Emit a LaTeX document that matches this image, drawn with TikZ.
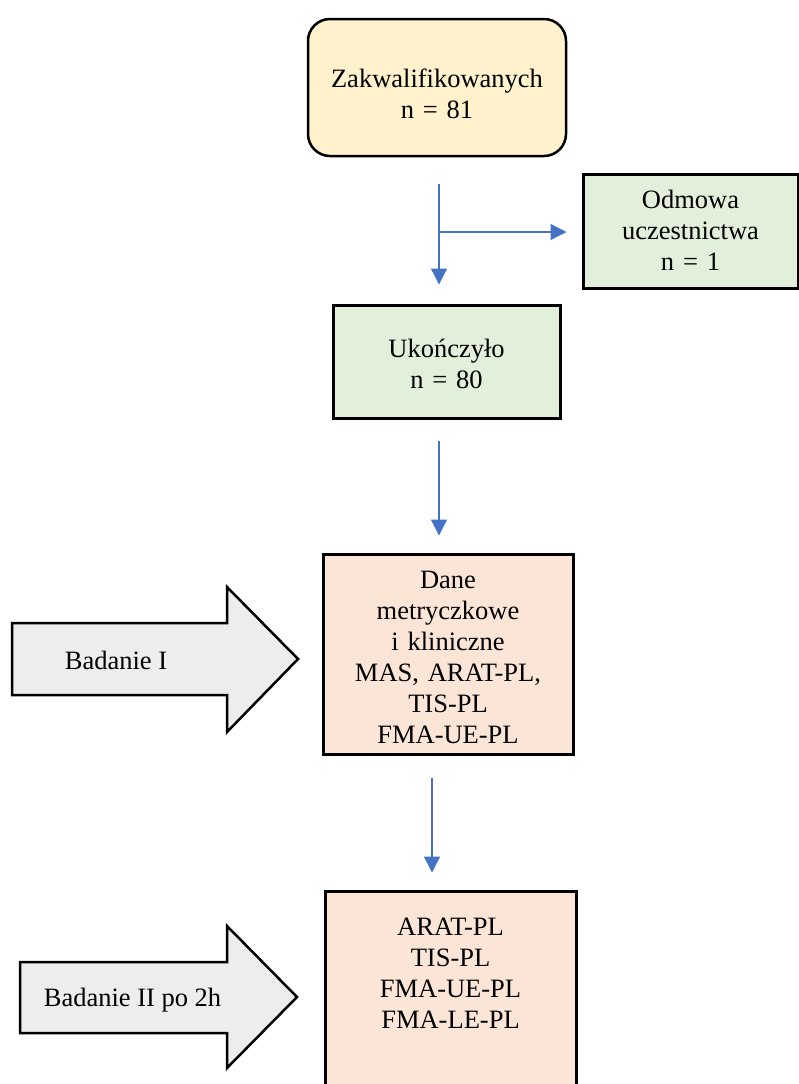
\documentclass[tikz,border=0pt]{standalone}
\usepackage{fontspec}
\setmainfont{Liberation Serif}
\usetikzlibrary{arrows.meta}

\definecolor{zolty}{HTML}{FFF2CC}
\definecolor{zielony}{HTML}{E2EFDA}
\definecolor{brzoskw}{HTML}{FBE5D6}
\definecolor{szary}{HTML}{EDEDED}
\definecolor{niebieski}{HTML}{4472C4}

\tikzset{
  pudelko/.style={draw, line width=3pt, inner sep=0pt, align=center, anchor=base, font=\fontsize{26.5}{31}\selectfont},
  strzalka/.style={draw, niebieski, line width=1.3pt, -{Triangle[width=16pt,length=16pt]}},
  blok/.style={draw, line width=2.5pt, fill=szary, line join=miter},
  napis/.style={anchor=base, font=\fontsize{26.5}{31}\selectfont}
}

\begin{document}
\begin{tikzpicture}[x=1pt,y=-1pt]
\useasboundingbox (0,0) rectangle (799,1084);

\node[pudelko, fill=zolty, rounded corners=22pt, line width=2.5pt, text width=258pt, text height=68pt, text depth=69pt] (kwalif) at (437,87) {Zakwalifikowanych\\ n = 81};
\node[pudelko, fill=zielony, text width=215pt, text height=34pt, text depth=80pt] (odmowa) at (690.5,208) {Odmowa\\ uczestnictwa\\ n = 1};
\node[pudelko, fill=zielony, text width=227pt, text height=52pt, text depth=61pt] (ukon) at (446.5,357) {Ukończyło\\ n = 80};
\node[pudelko, fill=brzoskw, text width=250pt, text height=34pt, text depth=166pt] (dane) at (448,588) {Dane\\ metryczkowe\\ i kliniczne\\ MAS, ARAT-PL,\\ TIS-PL\\ FMA-UE-PL};
\node[pudelko, fill=brzoskw, text width=251pt, text height=44pt, text depth=215pt] (pomiar) at (450.5,935) {ARAT-PL\\ TIS-PL\\ FMA-UE-PL\\ FMA-LE-PL};

\coordinate (rozg) at (439,232);
\path[strzalka, shorten <=27pt, shorten >=19pt] ([xshift=2pt]kwalif.south) -- ([xshift=2pt]kwalif.south |- ukon.north);
\path[strzalka, shorten >=15pt] (rozg) -- (rozg -| odmowa.west);
\path[strzalka, shorten <=21pt, shorten >=17pt] ([xshift=-7.5pt]ukon.south) -- ([xshift=-7.5pt]ukon.south |- dane.north);
\path[strzalka, shorten <=22pt, shorten >=17pt] ([xshift=-16pt]dane.south) -- ([xshift=-16pt]dane.south |- pomiar.north);

\path[blok] (12,623) -- (227,623) -- (227,587) -- (298,659) -- (227,732) -- (227,695) -- (12,695) -- cycle;
\node[napis] (badanie1) at (116,669) {Badanie I};
\path[blok] (20,962) -- (227,962) -- (227,926) -- (297,997) -- (227,1068) -- (227,1033) -- (20,1033) -- cycle;
\node[napis] (badanie2) at (132.5,1006) {Badanie II po 2h};
\end{tikzpicture}
\end{document}
